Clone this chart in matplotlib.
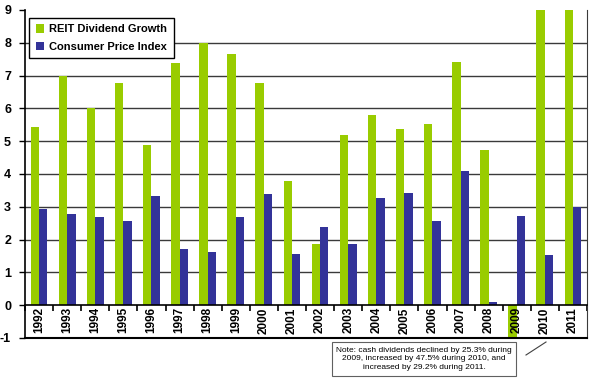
import matplotlib.pyplot as plt
import numpy as np

years = ['1992', '1993', '1994', '1995', '1996', '1997', '1998', '1999', '2000', '2001',
         '2002', '2003', '2004', '2005', '2006', '2007', '2008', '2009', '2010', '2011']
reit_growth = [5.43, 7.0, 6.0, 6.78, 4.89, 7.38, 8.0, 7.65, 6.77, 3.80,
               1.87, 5.2, 5.81, 5.37, 5.53, 7.42, 4.73, -25.3, 47.5, 29.2]
cpi = [2.93, 2.77, 2.70, 2.56, 3.34, 1.72, 1.63, 2.70, 3.40, 1.56,
       2.38, 1.87, 3.27, 3.43, 2.56, 4.10, 0.09, 2.73, 1.52, 3.0]
note = ('Note: cash dividends declined by 25.3% during\n'
        '2009, increased by 47.5% during 2010, and\n'
        'increased by 29.2% during 2011.')

plt.rcParams['font.family'] = ['Liberation Sans', 'DejaVu Sans']

fig = plt.figure(figsize=(5.97, 3.8), dpi=100)
ax = fig.add_axes([25 / 597, 42 / 380, 562 / 597, 328 / 380])

x = np.arange(len(years))
w = 0.3
ax.bar(x - w / 2, reit_growth, w, color='#99CC00', label='REIT Dividend Growth', zorder=2)
ax.bar(x + w / 2, cpi, w, color='#333399', label='Consumer Price Index', zorder=2)

ax.set_xlim(-0.5, len(years) - 0.5)
ax.set_ylim(-1, 9)
ax.set_yticks(range(-1, 10))
ax.set_yticklabels([str(v) for v in range(-1, 10)], fontweight='bold', fontsize=9)
for v in range(1, 9):
    ax.axhline(v, color='#3a3a3a', lw=1, zorder=1)
ax.axhline(-1, color='black', lw=1.5, zorder=3, clip_on=False)

# axis line at zero with tick marks between categories
ax.spines['bottom'].set_position(('data', 0))
ax.spines['bottom'].set_linewidth(1.2)
ax.spines['bottom'].set_zorder(3)
ax.set_xticks(np.arange(len(years) + 1) - 0.5)
ax.set_xticklabels([])
ax.tick_params(axis='x', length=4, width=1.2, direction='out')
ax.tick_params(axis='y', length=4, width=1, pad=6)
ax.spines['top'].set_visible(False)
ax.spines['left'].set_linewidth(1.2)
ax.spines['right'].set_color('#3a3a3a')

for i, yr in enumerate(years):
    ax.text(i, -0.06, yr, rotation=90, ha='center', va='top', fontsize=8.5,
            fontweight='bold', zorder=5)

leg = ax.legend(loc='upper left', bbox_to_anchor=(0.002, 0.985), fancybox=False,
                edgecolor='black', framealpha=1, prop={'weight': 'bold', 'size': 8},
                handlelength=0.75, handleheight=0.75, handletextpad=0.5,
                borderpad=0.55, labelspacing=0.7, borderaxespad=0.3)
leg.get_frame().set_linewidth(1)

fig.text(424 / 597, 1 - 359 / 380, note, ha='center', va='center', fontsize=6,
         linespacing=1.35,
         bbox=dict(boxstyle='square,pad=0.55', fc='white', ec='#606060', lw=0.8))
fig.add_artist(plt.Line2D([526 / 597, 546 / 597], [1 - 355 / 380, 1 - 342 / 380],
                          color='#404040', lw=0.8))

fig.savefig('out.png', dpi=100)
